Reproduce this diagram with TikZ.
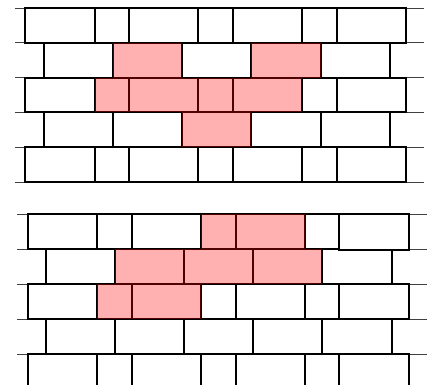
\documentclass[tikz,border=0pt]{standalone}
\begin{document}
\begin{tikzpicture}[x=1pt,y=-1pt,
  brick/.style={draw=black, line width=2pt, fill=white},
  hline/.style={draw=black!75, line width=0.9pt},
  pinkfill/.style={fill=red, fill opacity=0.31}]
\useasboundingbox (0,0) rectangle (436,385);
\clip (0,0) rectangle (436,385);
% ---------- top wall ----------
\foreach \y in {8,42.8,77.6,112.4,147.2,182} \draw[hline] (15,\y) -- (424,\y);
\foreach \ya/\yb in {8/42.8, 77.6/112.4, 147.2/182}{
  \foreach \a/\b in {25.3/94.5, 94.5/129.1, 129.1/198.3, 198.3/232.9, 232.9/302.1, 302.1/336.7, 336.7/405.9}
    \draw[brick] (\a,\ya) rectangle (\b,\yb);
}
\foreach \ya/\yb in {42.8/77.6, 112.4/147.2}{
  \foreach \a/\b in {43.7/112.9, 112.9/182.1, 182.1/251.3, 251.3/320.5, 320.5/389.7}
    \draw[brick] (\a,\ya) rectangle (\b,\yb);
}
\fill[pinkfill] (112.9,42.8) rectangle (182.1,77.6);
\fill[pinkfill] (251.3,42.8) rectangle (320.5,77.6);
\fill[pinkfill] (94.5,77.6) rectangle (302.1,112.4);
\fill[pinkfill] (182.1,112.4) rectangle (251.3,147.2);
% ---------- bottom wall ----------
\foreach \y in {214,249,284,319,354} \draw[hline] (17,\y) -- (427,\y);
\foreach \ya/\yb in {284/319, 354/389}{
  \foreach \a/\b in {28/97.2, 97.2/131.8, 131.8/201, 201/235.6, 235.6/304.8, 304.8/339.4, 339.4/408.6}
    \draw[brick] (\a,\ya) rectangle (\b,\yb);
}
\foreach \a/\b in {28/97.2, 97.2/131.8, 131.8/201, 201/235.6, 235.6/304.8, 304.8/339.4}
  \draw[brick] (\a,214) rectangle (\b,249);
\foreach \ya/\yb in {249/284, 319/354}{
  \foreach \a/\b in {45.5/114.7, 114.7/183.9, 183.9/253.1, 253.1/322.3, 322.3/391.5}
    \draw[brick] (\a,\ya) rectangle (\b,\yb);
}
\draw[brick] (339.4,214) rectangle (408.6,250);
\fill[pinkfill] (201,214) rectangle (304.8,249);
\fill[pinkfill] (114.7,249) rectangle (322.3,284);
\fill[pinkfill] (97.2,284) rectangle (201,319);
\end{tikzpicture}
\end{document}
